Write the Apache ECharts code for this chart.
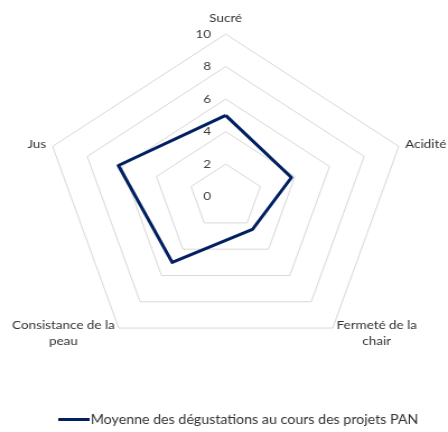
<!DOCTYPE html>
<html>
<head>
<meta charset="utf-8">
<script src="https://cdn.jsdelivr.net/npm/echarts@6/dist/echarts.min.js"></script>
<style>
html,body{margin:0;padding:0;background:#fff;overflow:hidden;}
#c{width:400px;height:432px;transform:scaleX(1.12);transform-origin:0 0;}
</style>
</head>
<body>
<div id="c"></div>
<script>
// Indicators in drawing order (counter-clockwise from top)
var categories = ['Sucré', 'Jus', 'Consistance de la\npeau', 'Fermeté de la\nchair', 'Acidité'];
var seriesName = 'Moyenne des dégustations au cours des projets PAN';
var seriesValues = [5.0, 6.2, 5.0, 2.5, 3.8];
var tickLabels = [0, 2, 4, 6, 8, 10];
var axisMax = 10;
var axisStep = 2;

var FONT = 'Lato, "Liberation Sans", sans-serif';
var TXT = '#333333';
var chart = echarts.init(document.getElementById('c'), null, {renderer: 'canvas'});
var cx = 201.5, cy = 196.6, R = 162.5;

chart.setOption({
  animation: false,
  backgroundColor: '#ffffff',
  textStyle: {fontFamily: FONT},
  legend: {
    bottom: 1,
    left: 47,
    icon: 'rect',
    itemWidth: 28,
    itemHeight: 3,
    data: [seriesName],
    textStyle: {color: TXT, fontSize: 12.7, fontFamily: FONT, padding: [0, 0, 0, -4]}
  },
  grid: {left: cx, top: cy - R, height: R, width: 1, containLabel: false},
  xAxis: {type: 'value', show: false},
  yAxis: {
    type: 'value',
    min: tickLabels[0],
    max: tickLabels[tickLabels.length - 1],
    interval: axisStep,
    axisLine: {show: false},
    axisTick: {show: false},
    splitLine: {show: false},
    axisLabel: {margin: 13, color: '#404040', fontSize: 12, fontFamily: FONT}
  },
  radar: {
    center: [cx, cy],
    radius: R,
    startAngle: 90,
    splitNumber: 5,
    shape: 'polygon',
    nameGap: 6,
    indicator: categories.map(function (n) { return {name: n, min: 0, max: axisMax}; }),
    axisName: {
      color: TXT,
      fontSize: 12,
      fontFamily: FONT,
      formatter: function (name) {
        if (name === 'Sucré') return '{t|' + name + '}';
        return name.split('\n').map(function (l) { return '{c|' + l + '}'; }).join('\n');
      },
      rich: {
        t: {color: TXT, fontSize: 12, fontFamily: FONT, padding: [0, 0, 4, 0]},
        c: {color: TXT, fontSize: 12, fontFamily: FONT, lineHeight: 16, align: 'center'}
      }
    },
    axisLine: {show: false},
    axisTick: {show: false},
    axisLabel: {show: false},
    splitArea: {show: false},
    splitLine: {lineStyle: {color: '#d9d9d9', width: 1}}
  },
  series: [{
    type: 'radar',
    name: seriesName,
    symbol: 'none',
    color: '#002060',
    lineStyle: {color: '#002060', width: 3},
    data: [{value: seriesValues, name: seriesName}]
  }]
});
</script>
</body>
</html>
